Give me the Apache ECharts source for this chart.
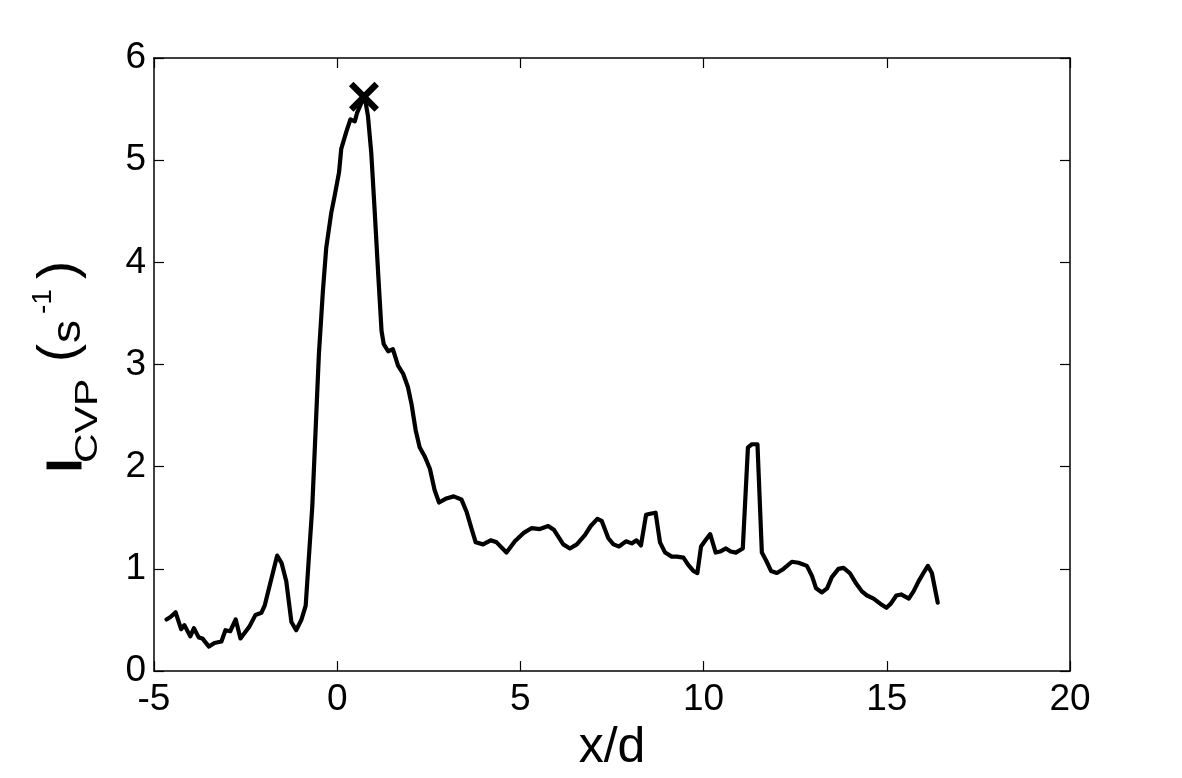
<!DOCTYPE html>
<html>
<head>
<meta charset="utf-8">
<script src="https://cdn.jsdelivr.net/npm/echarts@6/dist/echarts.min.js"></script>
<style>html,body{margin:0;padding:0;background:#fff;}#c{width:1182px;height:778px;}</style>
</head>
<body>
<div id="c"></div>
<script>
var xs = [-4.66,-4.55,-4.41,-4.26,-4.17,-4.01,-3.91,-3.78,-3.68,-3.50,-3.35,-3.16,-3.05,-2.92,-2.77,-2.64,-2.39,-2.23,-2.07,-1.98,-1.64,-1.52,-1.39,-1.25,-1.12,-0.98,-0.86,-0.77,-0.68,-0.50,-0.39,-0.30,-0.16,-0.07,0.05,0.11,0.25,0.36,0.48,0.54,0.66,0.75,0.84,0.93,1.02,1.12,1.21,1.27,1.39,1.52,1.66,1.80,1.93,2.03,2.14,2.25,2.39,2.53,2.66,2.78,2.98,3.18,3.39,3.53,3.67,3.78,3.98,4.19,4.35,4.62,4.85,5.08,5.31,5.53,5.76,5.92,6.17,6.35,6.54,6.76,6.92,7.10,7.22,7.40,7.54,7.69,7.88,8.04,8.17,8.29,8.43,8.54,8.69,8.81,8.95,9.13,9.27,9.45,9.58,9.72,9.83,9.93,10.07,10.18,10.33,10.45,10.61,10.74,10.88,11.07,11.21,11.32,11.47,11.59,11.71,11.84,12.00,12.18,12.41,12.59,12.82,12.96,13.07,13.23,13.37,13.50,13.68,13.82,13.99,14.14,14.32,14.46,14.64,14.82,14.99,15.11,15.26,15.39,15.60,15.73,15.87,16.00,16.12,16.23,16.39];
var ys = [0.505,0.53,0.575,0.41,0.45,0.34,0.42,0.33,0.32,0.24,0.275,0.29,0.40,0.39,0.505,0.32,0.44,0.55,0.57,0.64,1.13,1.06,0.88,0.48,0.40,0.50,0.64,1.13,1.61,3.10,3.72,4.14,4.49,4.65,4.88,5.11,5.28,5.40,5.38,5.46,5.56,5.62,5.43,5.07,4.52,3.88,3.33,3.20,3.13,3.15,2.99,2.91,2.78,2.61,2.36,2.19,2.10,1.98,1.77,1.65,1.69,1.71,1.68,1.56,1.39,1.26,1.24,1.28,1.26,1.16,1.27,1.35,1.40,1.39,1.42,1.38,1.24,1.20,1.24,1.33,1.42,1.49,1.47,1.30,1.24,1.22,1.27,1.25,1.28,1.23,1.53,1.54,1.55,1.26,1.16,1.12,1.12,1.11,1.04,0.98,0.96,1.22,1.29,1.34,1.16,1.17,1.20,1.17,1.16,1.20,2.19,2.22,2.22,1.16,1.08,0.98,0.96,1.00,1.07,1.06,1.03,0.93,0.81,0.77,0.81,0.92,1.00,1.01,0.96,0.87,0.78,0.74,0.71,0.66,0.62,0.66,0.74,0.75,0.71,0.78,0.88,0.96,1.03,0.96,0.67];
var peakX = [0.73];
var peakY = [5.62];
var xTicks = [-5, 0, 5, 10, 15, 20];
var yTicks = [0, 1, 2, 3, 4, 5, 6];

var FONT = "'Liberation Sans', Arial, sans-serif";
var chart = echarts.init(document.getElementById('c'), null, {renderer: 'canvas'});
var lineData = xs.map(function (x, i) { return [x, ys[i]]; });
var peakData = peakX.map(function (x, i) { return [x, peakY[i]]; });

function xAx(pos, show) {
  return {
    type: 'value', position: pos, min: xTicks[0], max: xTicks[xTicks.length - 1], interval: 5,
    axisLine: {show: true, onZero: false, lineStyle: {color: '#000', width: 1.5}},
    axisTick: {show: true, inside: true, length: 10, lineStyle: {color: '#000', width: 1.2}},
    splitLine: {show: false},
    axisLabel: {show: show, color: '#000', fontSize: 37, fontFamily: FONT, margin: 10},
    name: show ? 'x/d' : '', nameLocation: 'middle', nameGap: 46,
    nameTextStyle: {color: '#000', fontSize: 50, fontFamily: FONT}
  };
}
function yAx(pos, show) {
  return {
    type: 'value', position: pos, min: yTicks[0], max: yTicks[yTicks.length - 1], interval: 1,
    axisLine: {show: true, onZero: false, lineStyle: {color: '#000', width: 1.5}},
    axisTick: {show: true, inside: true, length: 10, lineStyle: {color: '#000', width: 1.2}},
    splitLine: {show: false},
    axisLabel: {show: show, color: '#000', fontSize: 37, fontFamily: FONT, margin: 8}
  };
}

var option = {
  backgroundColor: '#fff',
  animation: false,
  grid: {left: 154, right: 112, top: 58, bottom: 102, containLabel: false},
  xAxis: [xAx('bottom', true), xAx('top', false)],
  yAxis: [yAx('left', true), yAx('right', false)],
  series: [
    {
      type: 'line', xAxisIndex: 0, yAxisIndex: 0, data: lineData,
      showSymbol: false, smooth: false,
      lineStyle: {color: '#000', width: 4.2, join: 'round', cap: 'round'}
    },
    {
      type: 'scatter', xAxisIndex: 0, yAxisIndex: 0, data: peakData,
      symbol: 'path://M15,0L50,35L85,0L100,15L65,50L100,85L85,100L50,65L15,100L0,85L35,50L0,15Z',
      symbolSize: 30, itemStyle: {color: '#000', opacity: 1}, z: 5
    }
  ],
  graphic: [{
    type: 'group', x: 83, y: 470, rotation: Math.PI / 2,
    children: [
      {type: 'text', x: -2, y: -16, style: {text: 'I', font: '47px ' + FONT, fill: '#000', stroke: '#000', lineWidth: 3, align: 'left', verticalAlign: 'middle'}},
      {type: 'text', x: 7, y: 5.5, scaleX: 1.28, style: {text: 'CVP', font: '32px ' + FONT, fill: '#000', align: 'left', verticalAlign: 'middle'}},
      {type: 'text', x: 108, y: -23, style: {text: '(', font: '54px ' + FONT, fill: '#000', align: 'left', verticalAlign: 'middle'}},
      {type: 'text', x: 127, y: -14, scaleX: 1.15, style: {text: 's', font: '40px ' + FONT, fill: '#000', align: 'left', verticalAlign: 'middle'}},
      {type: 'text', x: 156, y: -39.5, style: {text: '-1', font: '28px ' + FONT, fill: '#000', align: 'left', verticalAlign: 'middle'}},
      {type: 'text', x: 191, y: -23, style: {text: ')', font: '54px ' + FONT, fill: '#000', align: 'left', verticalAlign: 'middle'}}
    ]
  }]
};
chart.setOption(option);
</script>
</body>
</html>
